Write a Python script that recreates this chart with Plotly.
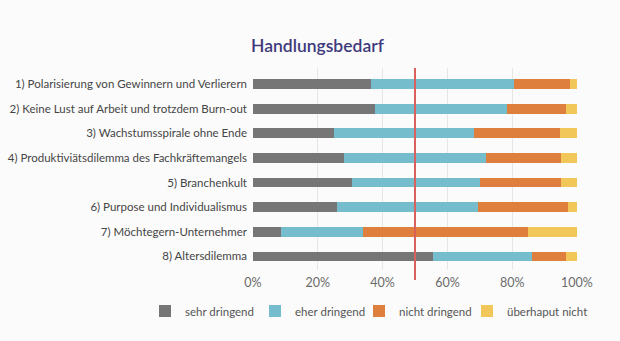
import plotly.graph_objects as go

categories = [
    "1) Polarisierung von Gewinnern und Verlierern",
    "2) Keine Lust auf Arbeit und trotzdem Burn-out",
    "3) Wachstumsspirale ohne Ende",
    "4) Produktiviätsdilemma des Fachkräftemangels",
    "5) Branchenkult",
    "6) Purpose und Individualismus",
    "7) Möchtegern-Unternehmer",
    "8) Altersdilemma",
]

sehr_dringend = [36.5, 37.7, 25.0, 28.1, 30.6, 26.0, 8.6, 55.5]
eher_dringend = [44.1, 40.7, 43.2, 43.7, 39.5, 43.3, 25.3, 30.6]
nicht_dringend = [17.2, 18.1, 26.6, 23.2, 25.0, 28.0, 50.9, 10.4]
ueberhaupt_nicht = [2.2, 3.5, 5.2, 5.0, 4.9, 2.7, 15.2, 3.5]

series = [
    ("sehr dringend", sehr_dringend, "#767676"),
    ("eher dringend", eher_dringend, "#75bdcc"),
    ("nicht dringend", nicht_dringend, "#de7f3e"),
    ("überhaput nicht", ueberhaupt_nicht, "#f1c75a"),
]

threshold = 50
x_ticks = [0, 20, 40, 60, 80, 100]

# one single-entry legend per series, laid out in a row under the axis
legend_ids = ["legend", "legend2", "legend3", "legend4"]
legend_left_px = [145, 255, 359, 467]

W, H = 620, 341

fig = go.Figure()
for (name, vals, color), lid in zip(series, legend_ids):
    fig.add_trace(go.Bar(
        y=categories, x=vals, name=name, orientation="h",
        marker=dict(color=color, line=dict(width=0)),
        legend=lid, showlegend=True,
    ))

fig.add_shape(type="line", xref="x", yref="paper",
              x0=threshold, x1=threshold, y0=-0.05, y1=1.0,
              line=dict(color="#d9605c", width=2))

legend_style = dict(xref="container", yref="container", xanchor="left",
                    y=1 - 311 / H, yanchor="middle",
                    bgcolor="rgba(0,0,0,0)", borderwidth=0,
                    font=dict(size=11.5, color="#555555"))
legends = {lid: dict(x=px / W, **legend_style)
           for lid, px in zip(legend_ids, legend_left_px)}

fig.update_layout(
    width=W, height=H, showlegend=True,
    barmode="stack", bargap=0.6,
    paper_bgcolor="#fbfbfb", plot_bgcolor="#fbfbfb",
    margin=dict(l=253, r=43, t=68, b=71, autoexpand=False),
    font=dict(family="Lato", size=12, color="#4a4a4a"),
    title=dict(text="Handlungsbedarf", x=0.512, xanchor="center", y=0.865, yanchor="middle",
               font=dict(family="Lato", size=17.5, color="#3e3a7c", weight=600)),
    xaxis=dict(range=[0, 100], tickvals=x_ticks,
               ticktext=[f"{v}%" for v in x_ticks],
               showgrid=True, gridcolor="#e6e6e6", gridwidth=1,
               zeroline=False, showline=False, ticklabelstandoff=3,
               tickfont=dict(size=12.5, color="#6a6a6a"), ticklen=0, ticks=""),
    yaxis=dict(categoryorder="array", categoryarray=categories,
               range=[7.55, -0.65], showgrid=False, zeroline=False,
               ticks="", ticklen=0, ticklabelstandoff=5,
               tickfont=dict(size=11.5, color="#454545")),
    **legends,
)

fig.write_html("out.html")
